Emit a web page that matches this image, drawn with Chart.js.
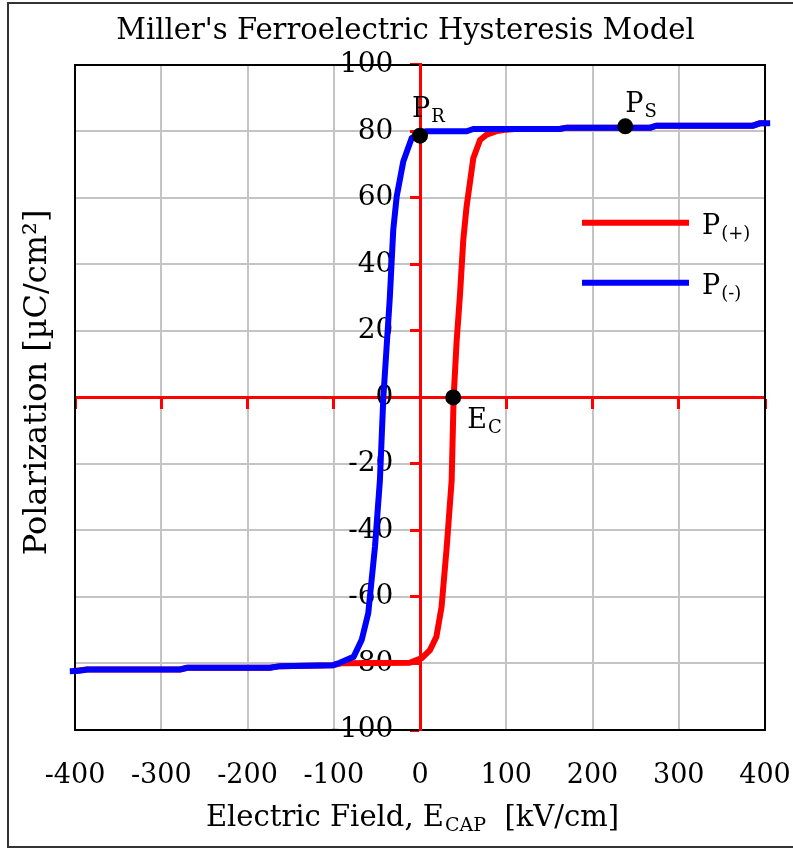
<!DOCTYPE html>
<html>
<head>
<meta charset="utf-8">
<script src="https://cdn.jsdelivr.net/npm/chart.js@4.4.1/dist/chart.umd.min.js"></script>
<style>
  html, body { margin: 0; padding: 0; background: #fff; }
  #wrap { position: relative; width: 793px; height: 849px; overflow: hidden; }
  #grafica { position: absolute; left: 0; top: 0; }
  #marco { position: absolute; left: 7px; top: 2px; width: 800px; height: 842px; border: 2px solid #333; pointer-events: none; }
</style>
</head>
<body>
<div id="wrap">
  <canvas id="grafica" width="793" height="849"></canvas>
  <div id="marco"></div>
</div>
<script>
// rama P(+) (campo creciente)
const campoPos = [-400, -386, -278, -270, -174, -162, -101, -90, -12, 2, 11.5, 19, 25, 31, 36.7, 39, 42.5, 46.4, 50.2, 54, 61.8, 69.6, 77.3, 88, 100, 110, 162, 170, 267, 274, 386, 394, 400];
const polPos   = [-82.2, -81.8, -81.8, -81.3, -81.3, -80.8, -80.5, -79.9, -79.8, -78.4, -76, -72, -63, -45, -25, 0, 17, 31, 47.4, 57.4, 71.9, 77.4, 79, 80, 80.5, 80.7, 80.7, 81.1, 81.1, 81.7, 81.7, 82.4, 82.4];

// rama P(-) (campo decreciente)
const campoNeg = [-406, -395, -386, -278, -270, -174, -162, -101, -93, -77, -67.6, -60, -52.2, -46.5, -42.5, -37.5, -35, -31, -27, -19.4, -9.6, 0, 7, 54, 62, 162, 170, 267, 274, 386, 394, 406];
const polNeg   = [-82.3, -82.2, -81.8, -81.8, -81.3, -81.3, -80.8, -80.5, -79.8, -78, -72.9, -64.9, -44.9, -25, 0, 20, 30, 50.4, 60.4, 70.9, 78, 79.5, 80, 80, 80.7, 80.7, 81.1, 81.1, 81.7, 81.7, 82.4, 82.4];

// puntos marcados: PR, PS, EC
const puntosCampo  = [0, 238, 38.5];
const puntosPol    = [78.7, 81.5, 0];
const puntosNombre = ["P", "P", "E"];
const puntosSub    = ["R", "S", "C"];

const leyendaNombre = ["P", "P"];
const leyendaSub    = ["(+)", "(-)"];

const FUENTE = "'DejaVu Serif', serif";
const ROJO = "#ff0000";
const AZUL = "#0000ff";
const GRIS = "#c4c4c4";

// desplazamiento de cada etiqueta respecto a su punto
const despEtiquetas = [[-8, -19], [0, -14], [14, 31]];

function pares(xs, ys) {
  return xs.map((x, i) => ({ x: x, y: ys[i] }));
}

function conSubindice(ctx, base, sub, x, y, tam) {
  ctx.font = `${tam}px ${FUENTE}`;
  ctx.fillText(base, x, y);
  const w = ctx.measureText(base).width;
  ctx.font = `${Math.round(tam * 0.66)}px ${FUENTE}`;
  ctx.fillText(sub, x + w + 1, y + 5);
}

const anotaciones = {
  id: "anotaciones",
  afterDraw(chart) {
    const { ctx, chartArea, scales } = chart;
    ctx.save();
    ctx.fillStyle = "#000";
    ctx.textBaseline = "alphabetic";
    ctx.textAlign = "left";

    puntosNombre.forEach((n, i) => {
      const px = scales.x.getPixelForValue(puntosCampo[i]);
      const py = scales.y.getPixelForValue(puntosPol[i]);
      conSubindice(ctx, n, puntosSub[i], px + despEtiquetas[i][0], py + despEtiquetas[i][1], 27);
    });

    // leyenda
    const colores = [ROJO, AZUL];
    leyendaNombre.forEach((n, i) => {
      const y = chartArea.top + 158 + i * 60;
      ctx.strokeStyle = colores[i];
      ctx.lineWidth = 6;
      ctx.beginPath();
      ctx.moveTo(chartArea.left + 507, y);
      ctx.lineTo(chartArea.left + 614, y);
      ctx.stroke();
      conSubindice(ctx, n, leyendaSub[i], chartArea.left + 627, y + 11, 27);
    });

    // titulo del eje x con subindice
    const t1 = "Electric Field, E", t2 = "CAP", t3 = "  [kV/cm]";
    ctx.font = `29px ${FUENTE}`;
    const w1 = ctx.measureText(t1).width, w3 = ctx.measureText(t3).width;
    ctx.font = `19px ${FUENTE}`;
    const w2 = ctx.measureText(t2).width;
    let x = (chartArea.left + chartArea.right) / 2 - 8 - (w1 + w2 + w3) / 2;
    const yb = 826;
    ctx.font = `29px ${FUENTE}`;
    ctx.fillText(t1, x, yb);
    ctx.font = `19px ${FUENTE}`;
    ctx.fillText(t2, x + w1 + 1, yb + 5);
    ctx.font = `29px ${FUENTE}`;
    ctx.fillText(t3, x + w1 + w2 + 1, yb);

    // titulo del eje y, un poco por encima del centro
    ctx.translate(38, (chartArea.top + chartArea.bottom) / 2 - 15);
    ctx.rotate(-Math.PI / 2);
    ctx.textAlign = "center";
    ctx.textBaseline = "middle";
    ctx.font = `32px ${FUENTE}`;
    ctx.fillText("Polarization [µC/cm²]", 0, 0);
    ctx.restore();
  }
};

new Chart(document.getElementById("grafica"), {
  type: "scatter",
  data: {
    datasets: [
      { label: "puntos", data: pares(puntosCampo, puntosPol), pointRadius: 8, pointBackgroundColor: "#000", pointBorderWidth: 0, showLine: false, clip: false, order: 0 },
      { label: "P(-)", data: pares(campoNeg, polNeg), borderColor: AZUL, borderWidth: 6, showLine: true, pointRadius: 0, clip: false, order: 1 },
      { label: "P(+)", data: pares(campoPos, polPos), borderColor: ROJO, borderWidth: 6, showLine: true, pointRadius: 0, clip: false, order: 2 }
    ]
  },
  options: {
    responsive: false,
    animation: false,
    layout: { padding: { left: 18, right: 0, top: 0, bottom: 0 } },
    plugins: {
      legend: { display: false },
      tooltip: { enabled: false },
      title: {
        display: true,
        text: "Miller's Ferroelectric Hysteresis Model",
        color: "#000",
        font: { family: FUENTE, size: 29, weight: "normal" },
        padding: { top: 14, bottom: 16 }
      }
    },
    scales: {
      x: {
        type: "linear", position: "bottom", min: -400, max: 400,
        ticks: { stepSize: 100, padding: 30, color: "#000", font: { family: FUENTE, size: 27 }, maxRotation: 0 },
        grid: { color: GRIS, lineWidth: 2, drawTicks: false },
        border: { color: "#000", width: 2 },
        afterFit: s => { s.height = 119; s.paddingLeft = 0; s.paddingRight = 0; }
      },
      xSup: {
        type: "linear", position: "top", min: -400, max: 400,
        ticks: { display: false },
        grid: { display: false, drawTicks: false },
        border: { color: "#000", width: 2 },
        afterFit: s => { s.height = 0; }
      },
      xCero: {
        type: "linear", position: { y: 0 }, min: -400, max: 400,
        ticks: { display: false, stepSize: 100 },
        grid: { drawOnChartArea: false, tickColor: ROJO, tickLength: 10, tickWidth: 3 },
        border: { color: ROJO, width: 3 }
      },
      y: {
        type: "linear", position: "left", min: -100, max: 100,
        ticks: { display: false, stepSize: 20 },
        grid: { color: GRIS, lineWidth: 2, drawTicks: false },
        border: { color: "#000", width: 2 },
        afterFit: s => { s.width = 57; }
      },
      yDer: {
        type: "linear", position: "right", min: -100, max: 100,
        ticks: { display: false },
        grid: { display: false, drawTicks: false },
        border: { color: "#000", width: 2 },
        afterFit: s => { s.width = 28; }
      },
      yCero: {
        type: "linear", position: { x: 0 }, min: -100, max: 100,
        ticks: { display: false, stepSize: 20 },
        grid: { drawOnChartArea: false, tickColor: ROJO, tickLength: 9, tickWidth: 3 },
        border: { color: ROJO, width: 3 }
      },
      // solo las etiquetas del eje y, a la izquierda del eje rojo
      yEtiq: {
        type: "linear", position: { x: -31 }, min: -100, max: 100, z: 1,
        ticks: { stepSize: 20, padding: 0, color: "#000", font: { family: FUENTE, size: 28 } },
        grid: { display: false, drawTicks: false },
        border: { display: false }
      }
    }
  },
  plugins: [anotaciones]
});
</script>
</body>
</html>
